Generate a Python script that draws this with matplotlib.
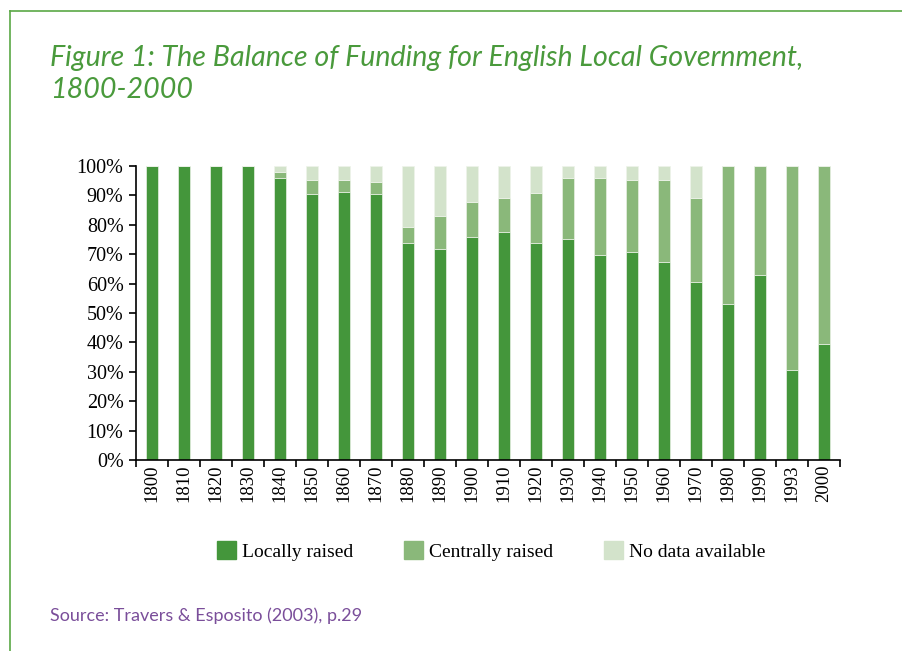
import numpy as np
import matplotlib.pyplot as plt
from matplotlib.lines import Line2D
from matplotlib.patches import Patch

years = ['1800', '1810', '1820', '1830', '1840', '1850', '1860', '1870', '1880', '1890', '1900',
         '1910', '1920', '1930', '1940', '1950', '1960', '1970', '1980', '1990', '1993', '2000']
# shares of local government funding, per cent
local = [100, 100, 100, 100, 96.0, 90.6, 91.3, 90.6, 73.9, 71.9, 75.7,
         77.7, 73.9, 75.3, 69.8, 70.9, 67.5, 60.7, 53.2, 62.8, 30.7, 39.6]
central = [0, 0, 0, 0, 2.1, 4.5, 3.8, 4.1, 5.4, 11.1, 12.2,
           11.5, 16.9, 20.7, 26.2, 24.2, 27.6, 28.5, 46.8, 37.2, 69.3, 60.4]
no_data = [0, 0, 0, 0, 1.9, 4.9, 4.9, 5.3, 20.7, 17.0, 12.1,
           10.8, 9.2, 4.0, 4.0, 4.9, 4.9, 10.8, 0, 0, 0, 0]

c_local = '#44963b'
c_central = '#8ab87a'
c_nodata = '#d3e3cb'
c_title = '#4a9a3c'
c_source = '#7a4e9a'

fig = plt.figure(figsize=(9.02, 6.51), dpi=100)

# frame lines along top and left
fig.add_artist(Line2D([10 / 902, 1], [1 - 11 / 651, 1 - 11 / 651], color='#5aa845', lw=1.2))
fig.add_artist(Line2D([10 / 902, 10 / 902], [0, 1 - 11 / 651], color='#5aa845', lw=1.2))

title_kw = dict(family='Lato', style='italic', weight='normal', fontsize=20.6, color=c_title,
                va='baseline')
fig.text(50 / 902, 1 - 66 / 651, 'Figure 1: The Balance of Funding for English Local Government,', **title_kw)
fig.text(50 / 902, 1 - 98 / 651, '1800-2000', **title_kw)

ax = fig.add_axes([136 / 902, 1 - 460 / 651, 704 / 902, 294 / 651])
x = np.arange(len(years))
w = 0.4
ax.bar(x, local, w, color=c_local, edgecolor='#e8f0e4', lw=0.5)
ax.bar(x, central, w, bottom=local, color=c_central, edgecolor='#e8f0e4', lw=0.5)
ax.bar(x, no_data, w, bottom=np.array(local) + np.array(central), color=c_nodata,
       edgecolor='#eef4ea', lw=0.5)

ax.set_xlim(-0.5, len(years) - 0.5)
ax.set_ylim(0, 100)
ax.set_yticks(np.arange(0, 101, 10))
ax.set_yticklabels([f'{v}%' for v in range(0, 101, 10)], family='Liberation Serif', fontsize=14.5)
ax.set_xticks(np.arange(len(years) + 1) - 0.5)
ax.set_xticklabels([])
ax.set_xticks(x, minor=True)
ax.set_xticklabels(years, minor=True, rotation=90, family='Liberation Serif', fontsize=13.5)
ax.tick_params(axis='x', which='minor', length=0, pad=3)
ax.tick_params(axis='both', which='major', length=5, width=1.2, direction='out')
ax.tick_params(axis='y', pad=4)
for s in ['top', 'right']:
    ax.spines[s].set_visible(False)
for s in ['left', 'bottom']:
    ax.spines[s].set_linewidth(1.2)

handles = [Patch(color=c_local, label='Locally raised'),
           Patch(color=c_central, label='Centrally raised'),
           Patch(color=c_nodata, label='No data available')]
fig.legend(handles=handles, loc='center', bbox_to_anchor=(491 / 902, 1 - 551 / 651), ncol=3,
           frameon=False, prop={'family': 'Liberation Serif', 'size': 14},
           handlelength=1.0, handleheight=1.0, handletextpad=0.3, columnspacing=2.6)

fig.text(50 / 902, 1 - 616 / 651, 'Source: Travers & Esposito (2003), p.29', family='Lato',
         weight='normal', fontsize=13, color=c_source, va='center')

fig.savefig('out.png', dpi=100)
